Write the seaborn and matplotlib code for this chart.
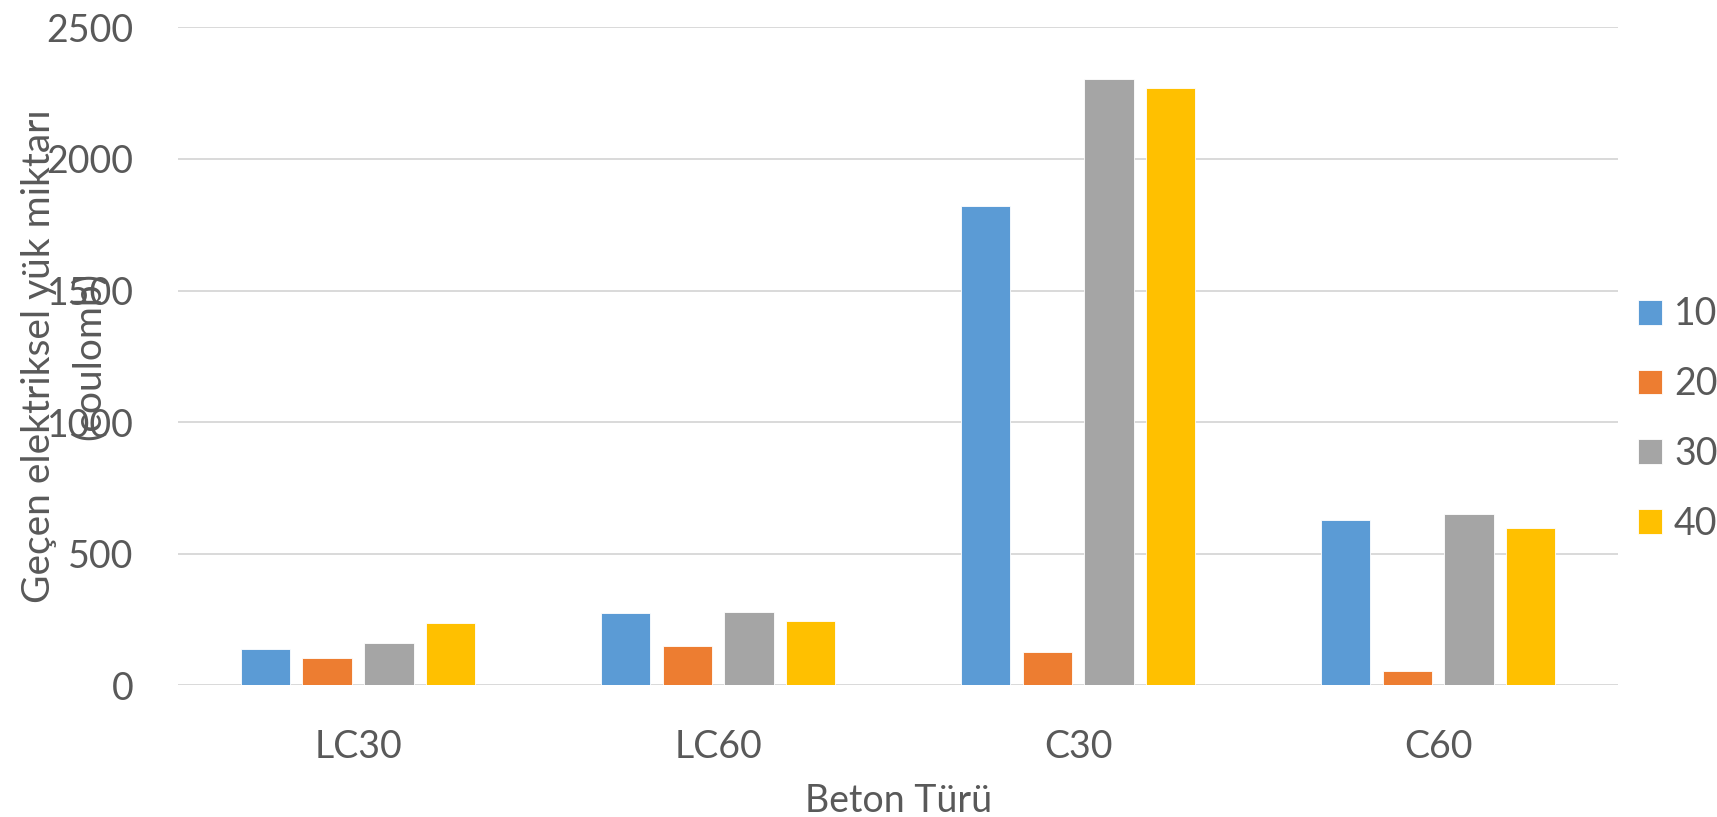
import matplotlib
matplotlib.use("Agg")
import matplotlib.pyplot as plt
import seaborn as sns
import pandas as pd

# Concrete types and the four test series
categories = ["LC30", "LC60", "C30", "C60"]
series_labels = ["10", "20", "30", "40"]
values_10 = [140, 276, 1823, 630]
values_20 = [105, 151, 128, 54]
values_30 = [163, 280, 2304, 651]
values_40 = [239, 243, 2271, 598]

yticks = [0, 500, 1000, 1500, 2000, 2500]
palette = ["#5B9BD5", "#ED7D31", "#A5A5A5", "#FFC000"]
text_color = "#595959"

rows = []
for label, vals in zip(series_labels, [values_10, values_20, values_30, values_40]):
    for cat, v in zip(categories, vals):
        rows.append({"Beton Türü": cat, "Seri": label, "Değer": v})
df = pd.DataFrame(rows)

sns.set_theme(style="white")
plt.rcParams["font.family"] = ["Lato", "DejaVu Sans"]

fig = plt.figure(figsize=(17.17, 8.17), dpi=100)
ax = fig.add_axes([0.1037, 0.161, 0.8387, 0.8055])

sns.barplot(data=df, x="Beton Türü", y="Değer", hue="Seri",
            order=categories, hue_order=series_labels, palette=palette,
            width=0.686, gap=0.2, saturation=1, ax=ax,
            edgecolor="white", linewidth=0.6)

ax.set_ylim(0, 2500)
ax.set_yticks(yticks)
ax.set_yticklabels([str(t) for t in yticks])
ax.set_xlim(-0.5, len(categories) - 0.5)
ax.yaxis.grid(True, color="#D9D9D9", linewidth=1.4)
ax.set_axisbelow(True)
for s in ax.spines.values():
    s.set_visible(False)

ax.tick_params(axis="y", length=0, pad=32, labelsize=27, labelcolor=text_color)
ax.tick_params(axis="x", length=0, pad=31, labelsize=27, labelcolor=text_color)

ax.set_ylabel("Geçen elektriksel yük miktarı\n(coulomb)", fontsize=28,
              color=text_color, linespacing=1.45)
ax.yaxis.set_label_coords(-0.050, 0.5)
ax.set_xlabel("Beton Türü", fontsize=27, color=text_color)
ax.xaxis.set_label_coords(0.5, -0.148)

handles, labels = ax.get_legend_handles_labels()
ax.legend(handles, labels, loc="center left", bbox_to_anchor=(0.954, 0.487),
          bbox_transform=fig.transFigure, frameon=False, fontsize=27,
          labelcolor=text_color, handlelength=0.64, handleheight=0.64,
          handletextpad=0.32, labelspacing=0.9, borderpad=0, borderaxespad=0)

fig.savefig("out.png", dpi=100)
